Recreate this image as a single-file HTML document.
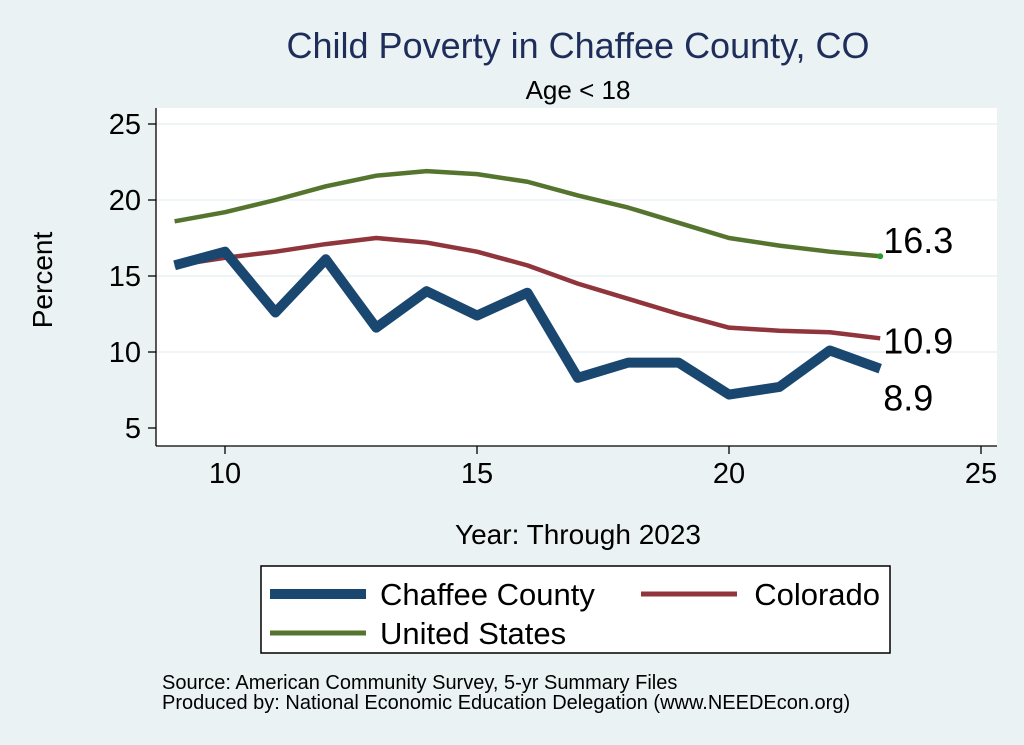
<!DOCTYPE html>
<html><head><meta charset="utf-8"><style>
body{margin:0;background:#eaf2f3;}
svg{display:block;font-family:"Liberation Sans",Arial,sans-serif;}
</style></head><body>
<svg width="1024" height="745" viewBox="0 0 1024 745">
<rect x="0" y="0" width="1024" height="745" fill="#eaf2f3"/>
<rect x="156" y="108" width="841" height="338" fill="#ffffff"/>
<text x="578" y="58" font-size="36" fill="#1e2d5a" text-anchor="middle">Child Poverty in Chaffee County, CO</text>
<text x="578" y="99" font-size="26" fill="#000" text-anchor="middle">Age &lt; 18</text>
<g id="grid"></g>
<g id="axes"></g>
<g id="series"></g>
<text x="52" y="280" font-size="28" text-anchor="middle" transform="rotate(-90 52 280)">Percent</text>
<text x="578" y="544" font-size="28" text-anchor="middle">Year: Through 2023</text>
<g>
<rect x="261" y="566" width="629" height="87" fill="#fff" stroke="#000" stroke-width="1.5"/>
<line x1="270" y1="594" x2="366" y2="594" stroke="#1a476f" stroke-width="10"/>
<text x="380" y="605" font-size="31">Chaffee County</text>
<line x1="641" y1="594" x2="737" y2="594" stroke="#90353b" stroke-width="5"/>
<text x="880" y="605" font-size="31" text-anchor="end">Colorado</text>
<line x1="270" y1="633" x2="366" y2="633" stroke="#55752f" stroke-width="5"/>
<text x="380" y="644" font-size="31">United States</text>
</g>
<text x="162" y="689" font-size="20">Source: American Community Survey, 5-yr Summary Files</text>
<text x="162" y="709" font-size="20">Produced by: National Economic Education Delegation (www.NEEDEcon.org)</text>
</svg>
<script>
const years=[9,10,11,12,13,14,15,16,17,18,19,20,21,22,23];
const chaffee=[15.7,16.6,12.6,16.1,11.6,14.0,12.4,13.9,8.3,9.3,9.3,7.2,7.7,10.1,8.9];
const colorado=[15.7,16.2,16.6,17.1,17.5,17.2,16.6,15.7,14.5,13.5,12.5,11.6,11.4,11.3,10.9];
const us=[18.6,19.2,20.0,20.9,21.6,21.9,21.7,21.2,20.3,19.5,18.5,17.5,17.0,16.6,16.3];
const yTicks=[5,10,15,20,25];
const xTicks=[10,15,20,25];
const labels=["16.3","10.9","8.9"];
const NS="http://www.w3.org/2000/svg";
function X(v){return 225+(v-10)*50.4;}
function Y(v){return 352-(v-10)*15.2;}
function mk(tag,attrs,parent){const e=document.createElementNS(NS,tag);for(const k in attrs)e.setAttribute(k,attrs[k]);document.getElementById(parent).appendChild(e);return e;}
yTicks.forEach(t=>{
 if(t>5){const g=mk('line',{x1:156,x2:997,y1:Y(t),y2:Y(t),stroke:'#eaf2f3','stroke-width':1.5},'grid');
 
 }
 const tk=mk('line',{x1:148,x2:156,y1:Y(t),y2:Y(t),stroke:'#000','stroke-width':1.3},'axes');
 
 
 const tx=mk('text',{x:141,y:Y(t)+10,'font-size':29,'text-anchor':'end'},'axes');tx.textContent=t;
 
 
});
xTicks.forEach(t=>{
 const tk=mk('line',{x1:X(t),x2:X(t),y1:446,y2:454,stroke:'#000','stroke-width':1.3},'axes');
 
 
 const tx=mk('text',{x:X(t),y:483,'font-size':29,'text-anchor':'middle'},'axes');tx.textContent=t;
 
 
});
const ya=mk('line',{x1:156,x2:156,y1:108,y2:446,stroke:'#000','stroke-width':1.3},'axes');


const xa=mk('line',{x1:156,x2:997,y1:446,y2:446,stroke:'#000','stroke-width':1.3},'axes');


function line(vals,color,w,name){
 const p=mk('polyline',{points:vals.map((v,i)=>X(years[i])+','+Y(v)).join(' '),fill:'none',stroke:color,'stroke-width':w,'stroke-linejoin':'round'},'series');
 
 
}
line(us,'#55752f',4.5,'line-united-states');
line(colorado,'#90353b',4.5,'line-colorado');
line(chaffee,'#1a476f',10,'line-chaffee-county');
const dot=mk('circle',{cx:X(23),cy:Y(us[14]),r:3,fill:'#2a9a2a'},'series');


const last=years.length-1;
[[us[last],-3,'label-us-end'],[colorado[last],15,'label-colorado-end'],[chaffee[last],42,'label-chaffee-end']].forEach((d,i)=>{
 const t=mk('text',{x:X(23)+3,y:Y(d[0])+d[1],'font-size':36},'series');t.textContent=labels[i];
 
 
});
</script>
</body></html>
